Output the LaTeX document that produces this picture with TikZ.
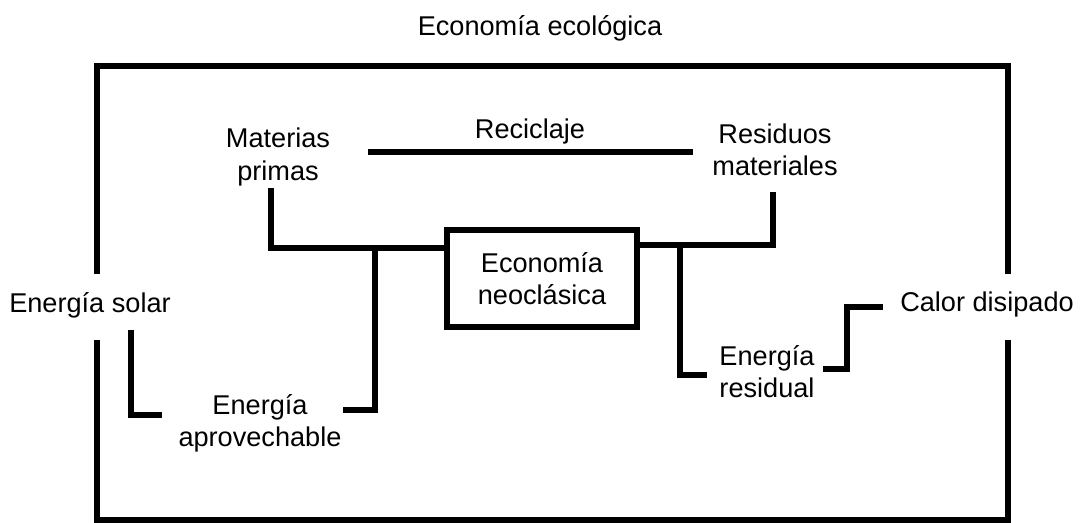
\documentclass[tikz,border=0pt]{standalone}
\usepackage{fontspec}
\setmainfont{Liberation Sans}
\usepackage{tikz}

\begin{document}
\begin{tikzpicture}[x=0.025cm, y=-0.025cm,
        font=\fontsize{19.3}{22.8}\selectfont,
        lbl/.style={align=center, inner sep=0pt},
        flow/.style={line width=4.3pt},
        box/.style={draw, line width=4.3pt, align=center, inner sep=0pt,
                    minimum width=4.75cm, minimum height=2.425cm}]
      \useasboundingbox (0,0) rectangle (1081,523);
      % outer frame
      \draw[flow] (97,274) |- (1008,66) -- (1008,274);
      \draw[flow] (97,340) |- (1008,520) -- (1008,340);
      % labels
      \node[lbl] (eco) at (540,28) {Economía ecológica};
      \node[lbl] (mp) at (278,157) {Materias\\primas};
      \node[lbl] (rec) at (530,131) {Reciclaje};
      \node[lbl] (rm) at (775,150) {Residuos\\materiales};
      \node[box] (neo) at (542,278.5) {Economía\\neoclásica};
      \node[lbl] (es) at (90,305) {Energía solar};
      \node[lbl] (ea) at (260,423) {Energía\\aprovechable};
      \node[lbl] (er) at (767,372) {Energía\\residual};
      \node[lbl] (cd) at (987,304) {Calor disipado};
      % ends of the flows
      \coordinate (recL) at (368,152);
      \coordinate (recR) at (693,152);
      \coordinate (mpT) at (271,188);
      \coordinate (mpJ) at (271,248);
      \coordinate (eaT) at (375,248);
      \coordinate (eaR) at (343,410);
      \coordinate (esB) at (131,330);
      \coordinate (esR) at (162,415);
      \coordinate (rmB) at (773,192);
      \coordinate (rmJ) at (773,245);
      \coordinate (erT) at (680,245);
      \coordinate (erL) at (707,375);
      \coordinate (erR) at (823,369);
      \coordinate (cdL) at (883,307);
      % flows
      \draw[flow] (recL) -- (recR);
      \draw[flow] (mpT) -- (mpJ) -- (neo.west |- mpJ);
      \draw[flow] (eaR) -| (eaT);
      \draw[flow] (esB) |- (esR);
      \draw[flow] (rmB) -- (rmJ) -- (neo.east |- rmJ);
      \draw[flow] (erT) |- (erL);
      \draw[flow] (erR) -- ++(24,0) |- (cdL);
    \end{tikzpicture}
\end{document}
